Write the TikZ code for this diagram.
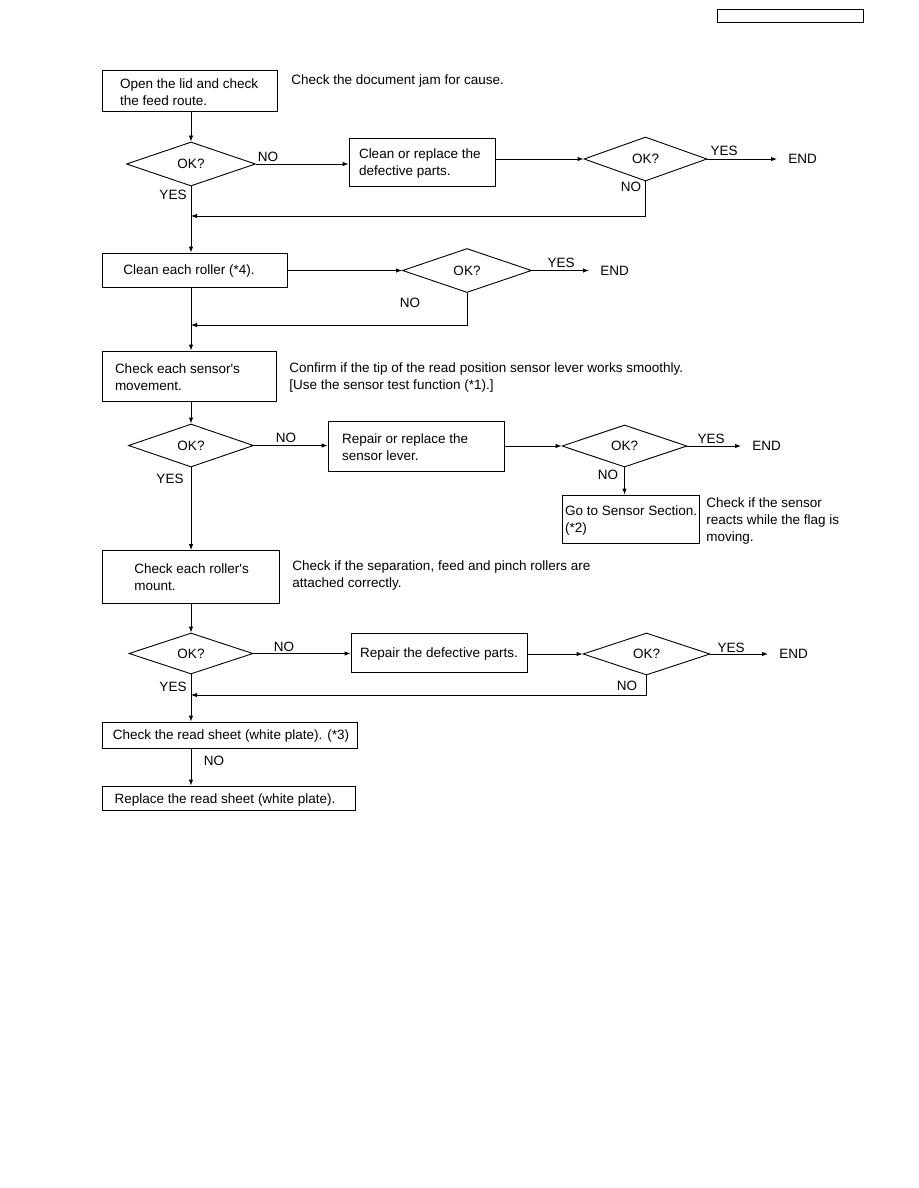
\documentclass[tikz,border=0pt]{standalone}
\usepackage{fontspec}
\setmainfont{Liberation Sans}
\usetikzlibrary{shapes.geometric,arrows.meta}
\begin{document}
\begin{tikzpicture}[x=1pt,y=-1pt,
  line width=0.9pt,
  every node/.style={font=\fontsize{13.5}{17}\selectfont},
  box/.style={draw, rectangle, inner sep=0pt, line width=0.9pt},
  dia/.style={draw, diamond, inner sep=0pt, line width=0.9pt},
  txt/.style={inner sep=0pt, align=left, yshift=-1.5pt},
  lab/.style={inner sep=0pt, yshift=-1pt},
  endn/.style={anchor=west, inner xsep=11pt, inner ysep=0pt},
  arr/.style={-{Latex[length=6pt,width=4.5pt]}}]
\fill[white] (0,0) rectangle (918,1188);
\useasboundingbox (0,0) rectangle (918,1188);
\coordinate (mx) at (191,0);
% header box
\node[box, minimum width=146pt, minimum height=13pt] (hdr) at (790,15.5) {};
% row 1
\node[box, minimum width=175pt, minimum height=41pt] (b1) at (189.5,90.5) {};
\node[txt, anchor=west] (b1t) at ([xshift=18pt]b1.west) {Open the lid and check\\the feed route.};
\node[txt, anchor=west] (n1) at (291,80) {Check the document jam for cause.};
\node[dia, minimum width=129pt, minimum height=44pt] (d1) at (191,164) {OK?};
\node[box, minimum width=146pt, minimum height=48pt] (b2) at (422,162) {};
\node[txt, anchor=west] (b2t) at ([xshift=10pt]b2.west) {Clean or replace the\\defective parts.};
\node[dia, minimum width=123pt, minimum height=44pt] (d2) at (645.5,159) {OK?};
\node[endn] (e2) at (777,159) {END};
\node[lab] (d1no) at (268,156) {NO};
\node[lab] (d1yes) at (173,194) {YES};
\node[lab] (d2yes) at (724,150) {YES};
\node[lab] (d2no) at (631,186) {NO};
\coordinate (r1) at (191,216);
% row 2
\node[box, minimum width=185pt, minimum height=34pt] (b3) at (194.5,270) {};
\node[txt] (b3t) at (189,270) {Clean each roller (*4).};
\node[dia, minimum width=129pt, minimum height=44pt] (d3) at (467,270.5) {OK?};
\node[endn] (e3) at (589,270.5) {END};
\node[lab] (d3yes) at (561,262) {YES};
\node[lab] (d3no) at (410,302) {NO};
\coordinate (r2) at (191,325);
% row 3
\node[box, minimum width=174pt, minimum height=50pt] (b4) at (189,376) {};
\node[txt, anchor=west] (b4t) at ([xshift=13pt]b4.west) {Check each sensor\textquotesingle s\\movement.};
\node[txt, anchor=west] (n2) at (289,376.5) {Confirm if the tip of the read position sensor lever works smoothly.\\{[}Use the sensor test function (*1).{]}};
\node[dia, minimum width=125pt, minimum height=43pt] (d4) at (191,445.5) {OK?};
\node[box, minimum width=176pt, minimum height=50pt] (b5) at (416,446) {};
\node[txt, anchor=west] (b5t) at ([xshift=14pt]b5.west) {Repair or replace the\\sensor lever.};
\node[dia, minimum width=125pt, minimum height=42pt] (d5) at (624.5,446) {OK?};
\node[endn] (e5) at (741,446) {END};
\node[lab] (d4no) at (286,437) {NO};
\node[lab] (d4yes) at (170,478) {YES};
\node[lab] (d5yes) at (711,438) {YES};
\node[lab] (d5no) at (608,474) {NO};
\node[box, minimum width=137pt, minimum height=48pt] (b6) at (630.5,519) {};
\node[txt, anchor=west] (b6t) at ([xshift=3pt]b6.west) {Go to Sensor Section.\\(*2)};
\node[txt, anchor=west] (n3) at (706,520) {Check if the sensor\\reacts while the flag is\\moving.};
% row 4
\node[box, minimum width=177pt, minimum height=53pt] (b7) at (190.5,577) {};
\node[txt, anchor=west] (b7t) at (134,575.5) {Check each roller\textquotesingle s\\mount.};
\node[txt, anchor=west] (n4) at (292,574) {Check if the separation, feed and pinch rollers are\\attached correctly.};
\node[dia, minimum width=124pt, minimum height=41pt] (d6) at (191,653.5) {OK?};
\node[box, minimum width=176pt, minimum height=39pt] (b8) at (439,652.5) {};
\node[txt] (b8t) at (439,652.5) {Repair the defective parts.};
\node[dia, minimum width=127pt, minimum height=42pt] (d7) at (646.5,654) {OK?};
\node[endn] (e7) at (768,654) {END};
\node[lab] (d6no) at (284,646) {NO};
\node[lab] (d6yes) at (173,686) {YES};
\node[lab] (d7yes) at (731,647) {YES};
\node[lab] (d7no) at (627,685) {NO};
\coordinate (r3) at (191,695);
% row 5
\node[box, minimum width=255pt, minimum height=26pt] (b9) at (229.5,735) {};
\node[txt] (b9t) at (231,735) {Check the read sheet (white plate). (*3)};
\node[lab] (b9no) at (214,760) {NO};
\node[box, minimum width=253pt, minimum height=24pt] (b10) at (228.5,798) {};
\node[txt] (b10t) at (225,798) {Replace the read sheet (white plate).};
% connectors
\draw[arr] (b1.south -| d1.north) -- (d1.north);
\draw[arr] (d1.east) -- (d1.east -| b2.west);
\draw[arr] (d2.west -| b2.east) -- (d2.west);
\draw[arr] (d2.east) -- (e2.west);
\draw[arr] (d2.south) -- (d2.south |- r1) -- (r1);
\draw[arr] (d1.south) -- (d1.south |- b3.north);
\draw[arr] (d3.west -| b3.east) -- (d3.west);
\draw[arr] (d3.east) -- (e3.west);
\draw[arr] (d3.south) -- (d3.south |- r2) -- (r2);
\draw[arr] (b3.south -| mx) -- (b4.north -| mx);
\draw[arr] (b4.south -| d4.north) -- (d4.north);
\draw[arr] (d4.east) -- (d4.east -| b5.west);
\draw[arr] (d5.west -| b5.east) -- (d5.west);
\draw[arr] (d5.east) -- (e5.west);
\draw[arr] (d5.south) -- (d5.south |- b6.north);
\draw[arr] (d4.south) -- (d4.south |- b7.north);
\draw[arr] (b7.south -| d6.north) -- (d6.north);
\draw[arr] (d6.east) -- (d6.east -| b8.west);
\draw[arr] (d7.west -| b8.east) -- (d7.west);
\draw[arr] (d7.east) -- (e7.west);
\draw[arr] (d7.south) -- (d7.south |- r3) -- (r3);
\draw[arr] (d6.south) -- (d6.south |- b9.north);
\draw[arr] (b9.south -| mx) -- (b10.north -| mx);
\end{tikzpicture}
\end{document}
